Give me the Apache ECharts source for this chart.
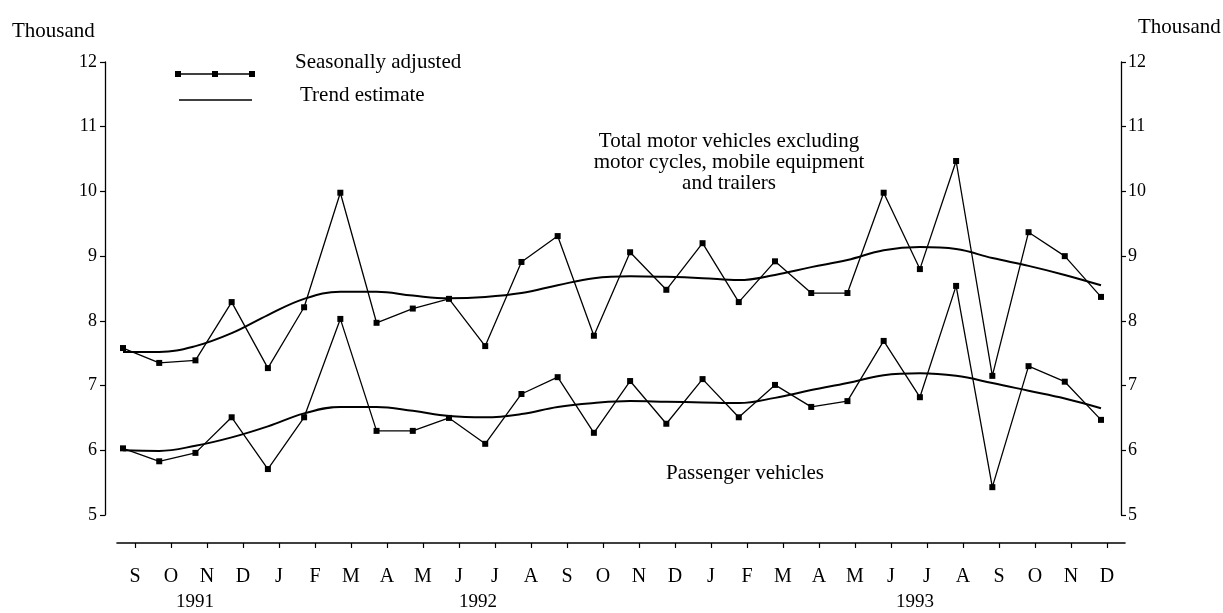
<!DOCTYPE html>
<html>
<head>
<meta charset="utf-8">
<script src="https://cdn.jsdelivr.net/npm/echarts@6/dist/echarts.min.js"></script>
<style>
html,body{margin:0;padding:0;background:#fff;}
#chart{width:1223px;height:613px;}
</style>
</head>
<body>
<div id="chart"></div>
<script>
const months = ['S','O','N','D','J','F','M','A','M','J','J','A','S','O','N','D','J','F','M','A','M','J','J','A','S','O','N','D'];
const yearLabels = ['1991','1992','1993'];
const yTicks = [5,6,7,8,9,10,11,12];

const totalAdjusted = [7.58,7.35,7.39,8.29,7.27,8.21,9.98,7.97,8.19,8.34,7.61,8.91,9.31,7.77,9.06,8.48,9.20,8.29,8.92,8.43,8.43,9.98,8.80,10.47,7.15,9.37,9.00,8.37];
const totalTrend = [7.52,7.52,7.61,7.81,8.09,8.34,8.45,8.45,8.39,8.35,8.37,8.43,8.55,8.66,8.69,8.68,8.66,8.63,8.71,8.83,8.94,9.09,9.14,9.11,8.97,8.85,8.71,8.55];
const passAdjusted = [6.03,5.83,5.96,6.51,5.71,6.51,8.03,6.30,6.30,6.50,6.10,6.87,7.13,6.27,7.07,6.41,7.10,6.51,7.01,6.67,6.76,7.69,6.82,8.54,5.43,7.30,7.06,6.47];
const passTrend = [6.00,5.99,6.07,6.20,6.37,6.57,6.67,6.67,6.61,6.53,6.51,6.56,6.67,6.73,6.76,6.75,6.74,6.73,6.81,6.93,7.04,7.16,7.19,7.15,7.04,6.92,6.80,6.65];

const FONT = '"Liberation Serif", "DejaVu Serif", serif';
const chart = echarts.init(document.getElementById('chart'));

const yAxisCommon = {
  type: 'value', min: yTicks[0], max: yTicks[yTicks.length-1], interval: 1,
  axisLine: {show: true, lineStyle: {color: '#000', width: 1.3}},
  axisTick: {show: true, inside: false, length: 5, lineStyle: {color: '#000', width: 1.2}},
  axisLabel: {color: '#000', fontFamily: FONT, fontSize: 18, margin: 8},
  splitLine: {show: false}
};

const saSeries = (name, data) => ({
  name, type: 'line', data, xAxisIndex: 0, yAxisIndex: 0,
  symbol: 'rect', symbolSize: 6, showSymbol: true,
  lineStyle: {color: '#000', width: 1.3}, itemStyle: {color: '#000'},
  animation: false, z: 3
});
const trendSeries = (name, data) => ({
  name, type: 'line', data, xAxisIndex: 0, yAxisIndex: 0,
  smooth: 0.4, symbol: 'none',
  lineStyle: {color: '#000', width: 2}, animation: false, z: 2
});

const txt = (x, y, text, size, align) => ({
  type: 'text', x, y,
  style: {text, font: size + 'px ' + FONT, fill: '#000', textAlign: align || 'left', textVerticalAlign: 'middle'}
});

chart.setOption({
  backgroundColor: '#fff',
  animation: false,
  grid: [
    {left: 123, right: 122, top: 62, bottom: 98},
    {left: 117, right: 98, top: 62, bottom: 70}
  ],
  xAxis: [
    {type: 'category', gridIndex: 0, data: months, boundaryGap: false, show: false},
    {type: 'category', gridIndex: 1, data: months, boundaryGap: true, position: 'bottom',
     axisLine: {show: true, lineStyle: {color: '#000', width: 1.6}},
     axisTick: {show: true, alignWithLabel: true, length: 5, lineStyle: {color: '#000', width: 1.2}},
     axisLabel: {interval: 0, color: '#000', fontFamily: FONT, fontSize: 20, margin: 24}}
  ],
  yAxis: [
    Object.assign({}, yAxisCommon, {gridIndex: 0, position: 'left', offset: 18}),
    Object.assign({}, yAxisCommon, {gridIndex: 0, position: 'right', offset: 20,
      axisLabel: Object.assign({}, yAxisCommon.axisLabel, {margin: 7})}),
    {type: 'value', gridIndex: 1, min: 0, max: 1, show: false}
  ],
  series: [
    saSeries('Total seasonally adjusted', totalAdjusted),
    trendSeries('Total trend', totalTrend),
    saSeries('Passenger seasonally adjusted', passAdjusted),
    trendSeries('Passenger trend', passTrend)
  ],
  graphic: [
    txt(12, 31, 'Thousand', 21),
    txt(1138, 27, 'Thousand', 21),
    // legend
    {type: 'polyline', shape: {points: [[178,74],[252,74]]}, style: {stroke: '#000', lineWidth: 1.5}},
    {type: 'rect', shape: {x: 175, y: 71, width: 6, height: 6}, style: {fill: '#000'}},
    {type: 'rect', shape: {x: 212, y: 71, width: 6, height: 6}, style: {fill: '#000'}},
    {type: 'rect', shape: {x: 249, y: 71, width: 6, height: 6}, style: {fill: '#000'}},
    txt(295, 62, 'Seasonally adjusted', 21),
    {type: 'polyline', shape: {points: [[179,100],[252,100]]}, style: {stroke: '#000', lineWidth: 1.5}},
    txt(300, 95, 'Trend estimate', 21),
    // annotations
    txt(729, 141, 'Total motor vehicles excluding', 21, 'center'),
    txt(729, 162, 'motor cycles, mobile equipment', 21, 'center'),
    txt(729, 183, 'and trailers', 21, 'center'),
    txt(745, 473, 'Passenger vehicles', 21, 'center'),
    // years
    txt(195, 602, yearLabels[0], 19, 'center'),
    txt(478, 602, yearLabels[1], 19, 'center'),
    txt(915, 602, yearLabels[2], 19, 'center')
  ]
});
</script>
</body>
</html>
